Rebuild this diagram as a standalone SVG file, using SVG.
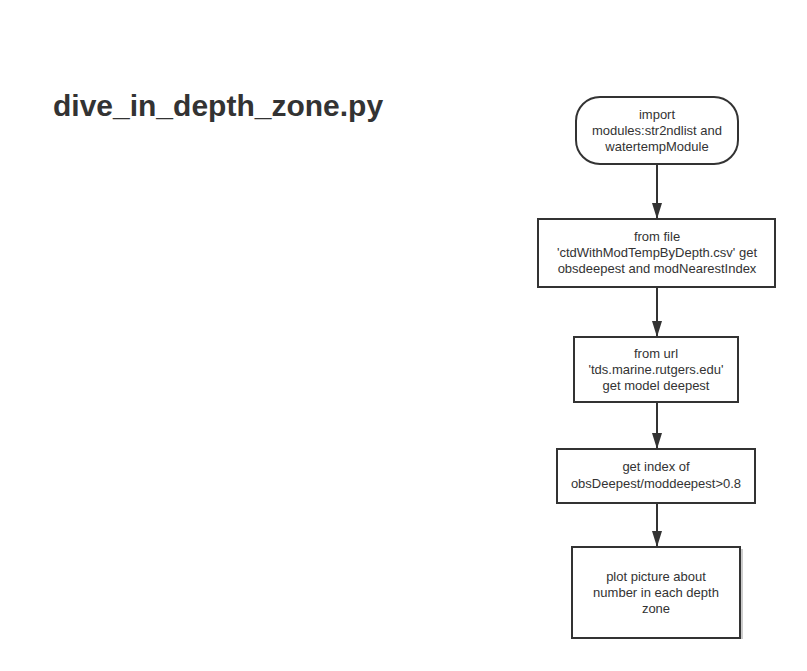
<svg xmlns="http://www.w3.org/2000/svg" width="807" height="671" viewBox="0 0 807 671">
<defs>
<style>
.box{fill:#fff;stroke:#333;stroke-width:2}
.lbl{font-family:"Liberation Sans",Arial,sans-serif;font-size:13px;fill:#333;text-anchor:middle}
.ttl{font-family:"Liberation Sans",Arial,sans-serif;font-size:30px;font-weight:bold;fill:#333}
.edge{stroke:#333;stroke-width:2;fill:none}
</style>
</defs>
<rect width="807" height="671" fill="#fff"/>
<text class="ttl" x="53" y="116">dive_in_depth_zone.py</text>
<g id="connectors">
<path class="edge" d="M657,165 V219"/>
<path d="M652,203 L662,203 L657,219 Z" fill="#333"/>
<path class="edge" d="M657,288 V337"/>
<path d="M652,321 L662,321 L657,337 Z" fill="#333"/>
<path class="edge" d="M657,403 V449"/>
<path d="M652,433 L662,433 L657,449 Z" fill="#333"/>
<path class="edge" d="M657,503 V547"/>
<path d="M652,531 L662,531 L657,547 Z" fill="#333"/>
</g>
<g id="n1">
<rect class="box" x="576" y="97" width="162" height="67" rx="24" ry="24"/>
<text class="lbl" x="657" y="119">import</text>
<text class="lbl" x="657" y="135">modules:str2ndlist and</text>
<text class="lbl" x="657" y="151">watertempModule</text>
</g>
<g id="n2">
<rect class="box" x="538" y="219" width="237" height="68"/>
<text class="lbl" x="657" y="241">from file</text>
<text class="lbl" x="657" y="257">'ctdWithModTempByDepth.csv' get</text>
<text class="lbl" x="657" y="273">obsdeepest and modNearestIndex</text>
</g>
<g id="n3">
<rect class="box" x="574" y="337" width="164" height="65"/>
<text class="lbl" x="656" y="358">from url</text>
<text class="lbl" x="656" y="374">'tds.marine.rutgers.edu'</text>
<text class="lbl" x="656" y="390">get model deepest</text>
</g>
<g id="n4">
<rect class="box" x="557" y="449" width="198" height="54"/>
<text class="lbl" x="656" y="471">get index of</text>
<text class="lbl" x="656" y="488">obsDeepest/moddeepest&gt;0.8</text>
</g>
<g id="n5">
<line x1="742" y1="549" x2="742" y2="639" stroke="#999" stroke-width="1"/>
<rect class="box" x="572" y="547" width="168" height="91"/>
<text class="lbl" x="656" y="581">plot picture about</text>
<text class="lbl" x="656" y="597">number in each depth</text>
<text class="lbl" x="656" y="613">zone</text>
</g>
</svg>
